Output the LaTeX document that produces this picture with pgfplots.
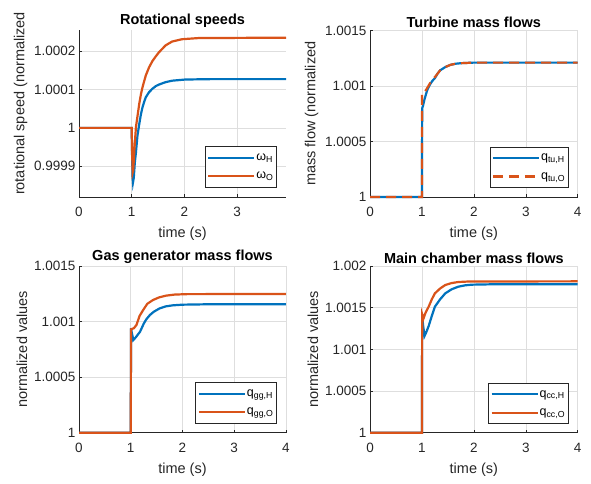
\documentclass[border=0pt]{standalone}
\usepackage{pgfplots}
\pgfplotsset{compat=1.18}
\usepackage{fontspec}
\setmainfont{Liberation Sans}
\definecolor{mblue}{rgb}{0,0.447,0.741}
\definecolor{morange}{rgb}{0.85,0.325,0.098}
\definecolor{axgray}{rgb}{0.15,0.15,0.15}
\definecolor{gridgray}{rgb}{0.87,0.87,0.87}
\pgfplotsset{
  mat/.style={
    scale only axis,
    axis x line*=bottom, axis y line*=left,
    axis line style={draw=axgray, line width=0.6pt},
    every tick/.style={axgray, line width=0.5pt},
    tick align=inside, major tick length=3pt,
    grid=major, grid style={gridgray, line width=0.5pt},
    tick label style={font=\fontsize{13.5}{15}\selectfont, text=axgray},
    xticklabel style={yshift=-7pt},
    label style={font=\fontsize{14.5}{16}\selectfont, text=axgray},
    xlabel style={yshift=-3.5pt},
    title style={font=\bfseries\fontsize{14.5}{16}\selectfont, text=black, yshift=-7pt},
    /pgf/number format/assume math mode=true,
    y coord trafo/.code={\edef\pgfmathresult{\fpeval{(##1-1)*10000}}},
    xmin=0, xmax=4, xtick={0,1,2,3,4},
    xlabel={time (s)},
    clip=false,
    legend cell align=left,
    legend style={anchor=south east, draw=axgray, line width=0.6pt, fill=white,
      font=\fontsize{12.5}{14}\selectfont, inner xsep=2pt, inner ysep=6pt, row sep=8pt,
      nodes={inner sep=1pt}},
    legend image code/.code={\draw[##1] (0pt,0pt) -- (46pt,0pt);},
    every axis plot/.append style={line width=2.2pt},
  }
}
\begin{document}
\begin{tikzpicture}
\useasboundingbox (0pt,0pt) rectangle (591pt,483pt);
% ---------------- Rotational speeds
\begin{axis}[mat, at={(79pt,286pt)}, anchor=south west, width=207pt, height=167pt,
  xmax=3.93, xtick={0,1,2,3},
  ymin=0.99982, ymax=1.000255,
  ytick={0.9999,1,1.0001,1.0002}, yticklabels={0.9999,1,1.0001,1.0002},
  ylabel={rotational speed (normalized},
  ylabel style={at={(ticklabel cs:0.56)}},
  title={Rotational speeds},
  legend style={at={(0.955,0.058)}}]
\addplot[mblue] table {
0 1
1 1
1.008 0.99993
1.018 0.99987
1.025 0.999858
1.04 0.99987
1.06 0.99991
1.08 0.999935
1.11 0.99998
1.144 1.00001
1.175 1.000035
1.206 1.000054
1.24 1.000069
1.269 1.00008
1.33 1.000093
1.394 1.000102
1.46 1.000109
1.52 1.000113
1.64 1.000119
1.77 1.000123
2.02 1.000126
2.5 1.000127
3.93 1.000127
};
\addlegendentry{ω\textsubscript{H}}
\addplot[morange] table {
0 1
1 1
1.008 0.99994
1.019 0.999884
1.03 0.99989
1.05 0.99994
1.081 1.000002
1.11 1.00003
1.144 1.000063
1.175 1.000087
1.206 1.000106
1.24 1.000123
1.269 1.000137
1.331 1.000158
1.394 1.000174
1.456 1.000186
1.519 1.000197
1.644 1.000215
1.769 1.000225
1.956 1.000231
2.27 1.000234
3.93 1.000235
};
\addlegendentry{ω\textsubscript{O}}
\end{axis}
% ---------------- Turbine mass flows
\begin{axis}[mat, at={(370pt,286pt)}, anchor=south west, width=207.7pt, height=166.6pt,
  ymin=1, ymax=1.0015,
  ytick={1,1.0005,1.001,1.0015}, yticklabels={1,1.0005,1.001,1.0015},
  ylabel={mass flow (normalized},
  title={Turbine mass flows},
  legend style={at={(0.955,0.054)}}]
\addplot[mblue] table {
0 1
1 1
1.005 1.0008
1.02 1.00082
1.05 1.00088
1.1 1.00096
1.15 1.00101
1.2 1.001045
1.25 1.00107
1.3 1.00111
1.35 1.00114
1.45 1.00117
1.55 1.00119
1.65 1.0012
1.76 1.001205
2 1.00121
4 1.00121
};
\addlegendentry{q\textsubscript{tu,H}}
\addplot[morange, dash pattern=on 10pt off 6pt] table {
0 1
1 1
1.0 1.00093
1.03 1.00093
1.06 1.00095
1.1 1.00098
1.15 1.00102
1.2 1.001055
1.25 1.00108
1.3 1.00111
1.35 1.00114
1.45 1.00117
1.55 1.00119
1.65 1.0012
1.76 1.001205
2 1.00121
4 1.00121
};
\addlegendentry{q\textsubscript{tu,O}}
\end{axis}
% ---------------- Gas generator mass flows
\begin{axis}[mat, at={(79pt,50.3pt)}, anchor=south west, width=207pt, height=166.7pt,
  ymin=1, ymax=1.0015,
  ytick={1,1.0005,1.001,1.0015}, yticklabels={1,1.0005,1.001,1.0015},
  ylabel={normalized values},
  title={Gas generator mass flows},
  legend style={at={(0.955,0.056)}}]
\addplot[mblue] table {
0 1
1 1
1.005 1.00094
1.02 1.0009
1.05 1.000834
1.1 1.00086
1.18 1.000909
1.25 1.00098
1.3 1.00102
1.37 1.001059
1.45 1.00109
1.56 1.001119
1.68 1.001137
1.81 1.001146
2 1.001152
2.4 1.001155
4 1.001155
};
\addlegendentry{q\textsubscript{gg,H}}
\addplot[morange] table {
0 1
1 1
1.005 1.00093
1.03 1.000935
1.06 1.00094
1.11 1.000969
1.17 1.00105
1.24 1.001104
1.32 1.00116
1.43 1.001194
1.55 1.001218
1.68 1.001233
1.85 1.001243
2.1 1.001247
4 1.001248
};
\addlegendentry{q\textsubscript{gg,O}}
\end{axis}
% ---------------- Main chamber mass flows
\begin{axis}[mat, at={(370pt,50.3pt)}, anchor=south west, width=207.7pt, height=166.7pt,
  ymin=1, ymax=1.002,
  ytick={1,1.0005,1.001,1.0015,1.002}, yticklabels={1,1.0005,1.001,1.0015,1.002},
  ylabel={normalized values},
  title={Main chamber mass flows},
  legend style={at={(0.955,0.052)}}]
\addplot[mblue] table {
0 1
1 1
1.005 1.00142
1.02 1.0013
1.05 1.00116
1.08 1.0012
1.13 1.00128
1.19 1.0014
1.25 1.001512
1.35 1.0016
1.45 1.001672
1.57 1.00172
1.7 1.001752
1.83 1.001768
1.96 1.001776
2.3 1.00178
4 1.00178
};
\addlegendentry{q\textsubscript{cc,H}}
\addplot[morange] table {
0 1
1 1
1.005 1.00142
1.03 1.00137
1.07 1.00144
1.13 1.001512
1.19 1.0016
1.25 1.001672
1.35 1.00173
1.45 1.001772
1.57 1.001795
1.7 1.001808
1.9 1.001814
4 1.001816
};
\addlegendentry{q\textsubscript{cc,O}}
\end{axis}
\end{tikzpicture}
\end{document}
